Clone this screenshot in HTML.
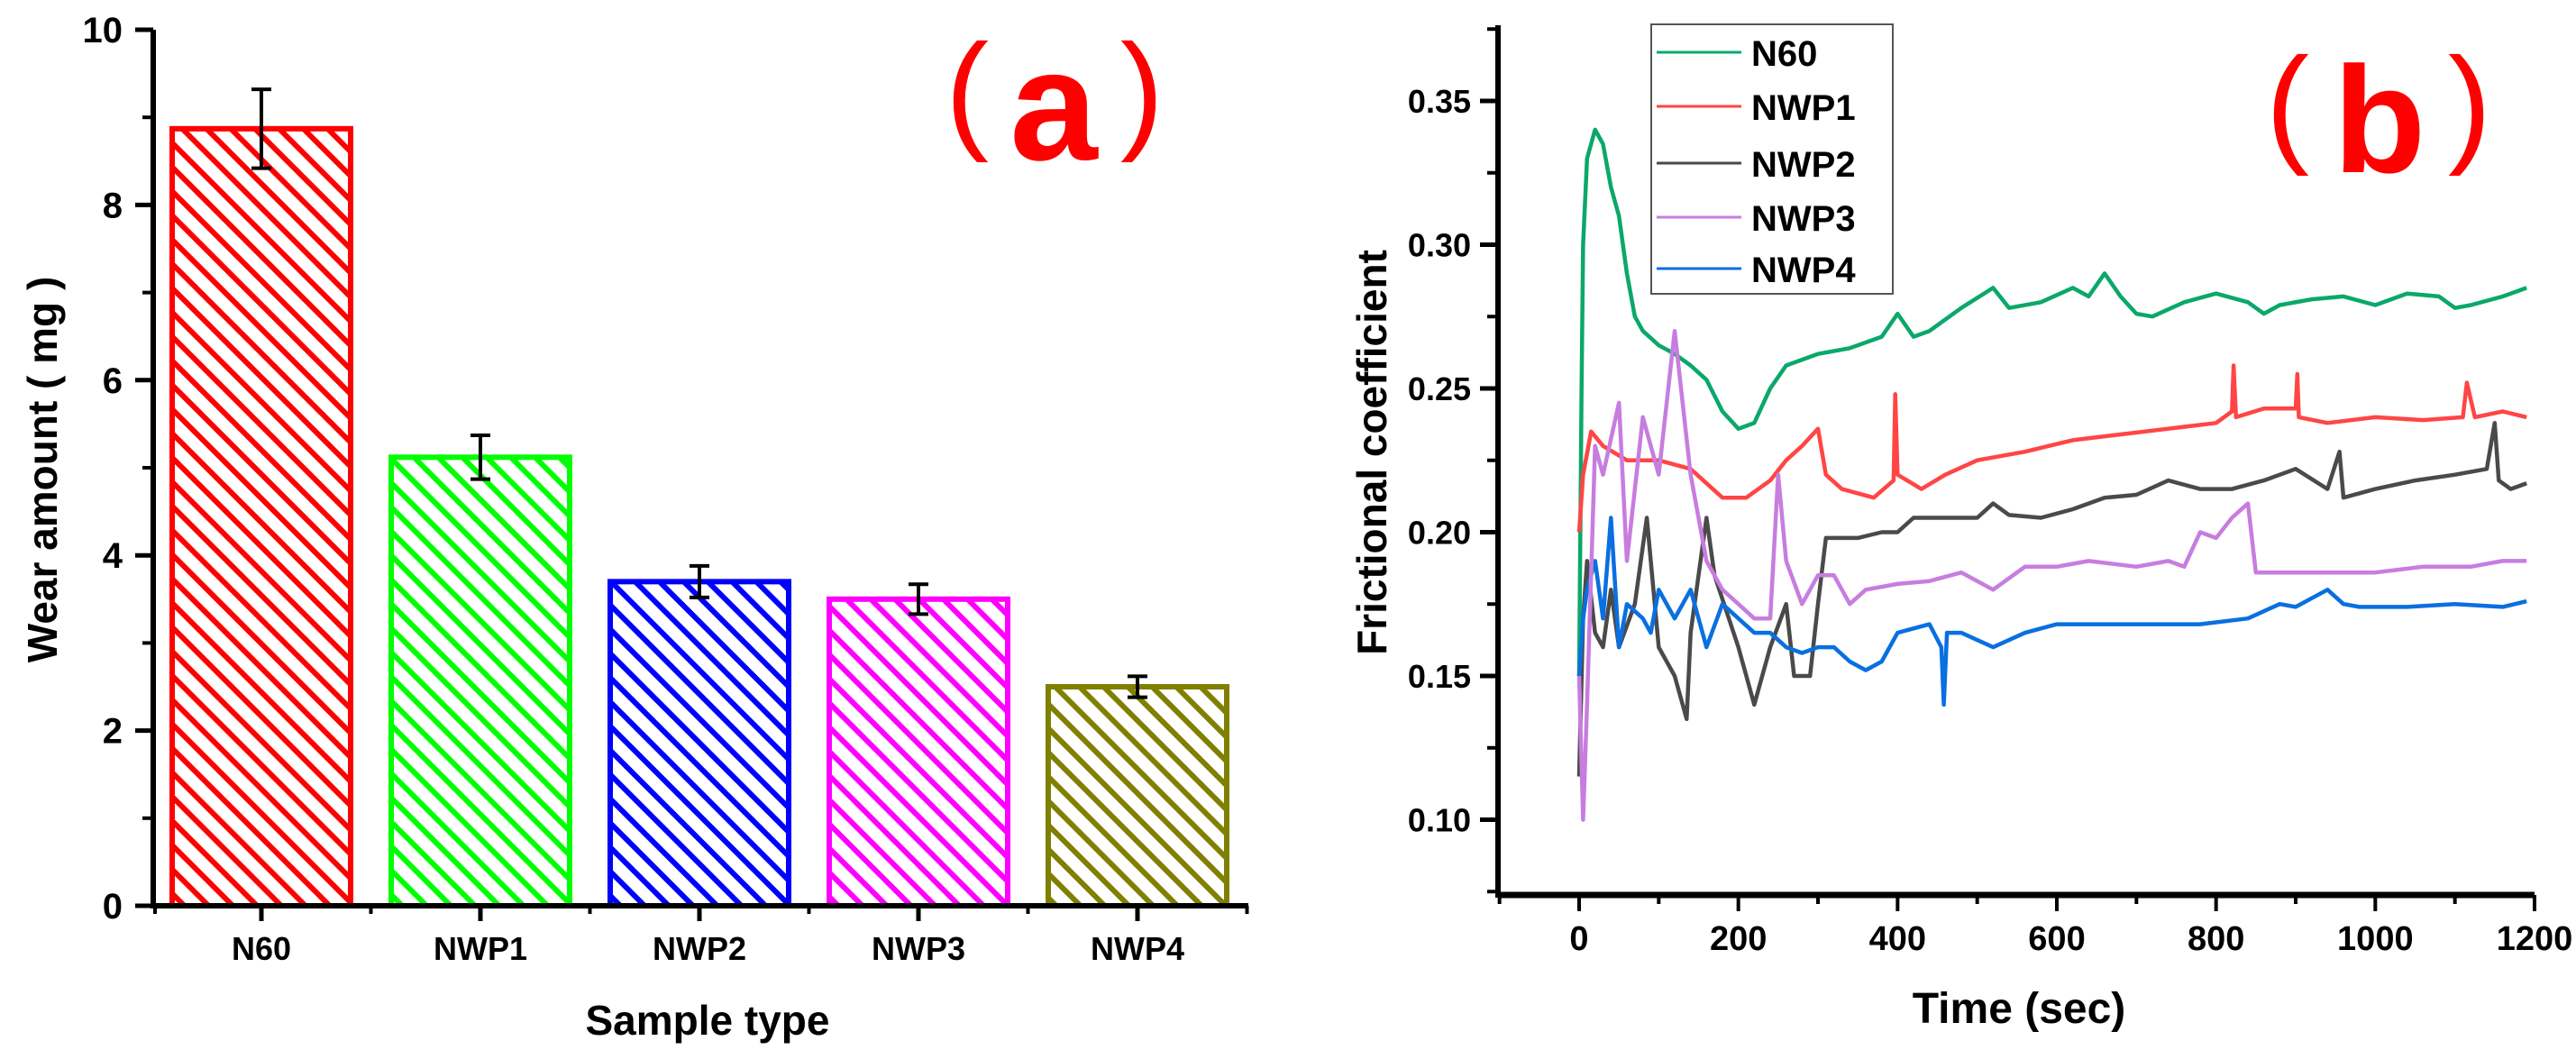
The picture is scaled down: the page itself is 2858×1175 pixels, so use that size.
<!DOCTYPE html>
<html><head><meta charset="utf-8"><style>
html,body{margin:0;padding:0;background:#fff;}
svg{display:block;font-family:"Liberation Sans",Arial,sans-serif;font-weight:bold;}
</style></head><body>
<svg id="fig" width="2858" height="1175" viewBox="0 0 2858 1175" xmlns="http://www.w3.org/2000/svg">
<defs>
<pattern id="hatchRed" patternUnits="userSpaceOnUse" width="19" height="19" patternTransform="rotate(-45)"><line x1="4" y1="-5" x2="4" y2="25" stroke="#ff0000" stroke-width="6"/></pattern>
<pattern id="hatchGreen" patternUnits="userSpaceOnUse" width="19" height="19" patternTransform="rotate(-45)"><line x1="4" y1="-5" x2="4" y2="25" stroke="#00ff00" stroke-width="6"/></pattern>
<pattern id="hatchBlue" patternUnits="userSpaceOnUse" width="19" height="19" patternTransform="rotate(-45)"><line x1="4" y1="-5" x2="4" y2="25" stroke="#0000ff" stroke-width="6"/></pattern>
<pattern id="hatchMag" patternUnits="userSpaceOnUse" width="19" height="19" patternTransform="rotate(-45)"><line x1="4" y1="-5" x2="4" y2="25" stroke="#ff00ff" stroke-width="6"/></pattern>
<pattern id="hatchOlive" patternUnits="userSpaceOnUse" width="19" height="19" patternTransform="rotate(-45)"><line x1="4" y1="-5" x2="4" y2="25" stroke="#808000" stroke-width="6"/></pattern>
</defs>
<g id="chartA"></g>
<g id="chartB"></g>
</svg>
<script>
// ---- Chart (a) data ----
const barCategories = ["N60","NWP1","NWP2","NWP3","NWP4"];
const barValues = [8.87, 5.12, 3.7, 3.5, 2.5];
const barErrors = [0.45, 0.25, 0.18, 0.17, 0.12];
const barYTicks = [0,2,4,6,8,10];
// ---- Chart (b) data ----
const seriesNames = ["N60","NWP1","NWP2","NWP3","NWP4"];
const xTicksB = [0,200,400,600,800,1000,1200];
const yTicksB = [0.10,0.15,0.20,0.25,0.30,0.35];
const tN60 = [0,3,5,10,20,30,40,50,60,70,80,100,120,140,160,180,200,220,240,260,280,300,340,380,400,420,440,480,520,540,580,620,640,660,680,700,720,760,800,840,860,880,920,960,1000,1040,1080,1100,1120,1160,1190];
const vN60 = [0.15,0.25,0.30,0.33,0.34,0.335,0.32,0.31,0.29,0.275,0.27,0.265,0.262,0.258,0.253,0.242,0.236,0.238,0.25,0.258,0.26,0.262,0.264,0.268,0.276,0.268,0.27,0.278,0.285,0.278,0.28,0.285,0.282,0.29,0.282,0.276,0.275,0.28,0.283,0.28,0.276,0.279,0.281,0.282,0.279,0.283,0.282,0.278,0.279,0.282,0.285];
const tNWP1 = [0,5,15,30,60,100,140,180,210,240,260,280,300,310,330,370,395,397,400,430,460,500,560,620,680,740,800,820,822,825,860,900,902,904,940,1000,1060,1110,1115,1125,1160,1190];
const vNWP1 = [0.20,0.22,0.235,0.23,0.225,0.225,0.222,0.212,0.212,0.218,0.225,0.23,0.236,0.22,0.215,0.212,0.218,0.248,0.22,0.215,0.22,0.225,0.228,0.232,0.234,0.236,0.238,0.242,0.258,0.24,0.243,0.243,0.255,0.24,0.238,0.24,0.239,0.24,0.252,0.24,0.242,0.24];
const tNWP2 = [0,5,10,20,30,40,50,70,85,100,120,135,140,160,170,200,220,240,260,270,290,300,310,350,380,400,420,460,500,520,540,580,620,660,700,740,780,820,860,900,940,955,960,1000,1050,1100,1140,1150,1155,1170,1190];
const vNWP2 = [0.115,0.17,0.19,0.165,0.16,0.18,0.16,0.175,0.205,0.16,0.15,0.135,0.165,0.205,0.185,0.16,0.14,0.16,0.175,0.15,0.15,0.175,0.198,0.198,0.20,0.20,0.205,0.205,0.205,0.21,0.206,0.205,0.208,0.212,0.213,0.218,0.215,0.215,0.218,0.222,0.215,0.228,0.212,0.215,0.218,0.22,0.222,0.238,0.218,0.215,0.217];
const tNWP3 = [0,5,10,20,30,50,60,80,100,120,130,140,160,180,200,220,240,250,260,280,300,320,340,360,400,440,480,520,560,600,640,700,740,760,780,800,820,840,850,880,940,1000,1060,1120,1160,1190];
const vNWP3 = [0.15,0.10,0.14,0.23,0.22,0.245,0.19,0.24,0.22,0.27,0.245,0.22,0.19,0.18,0.175,0.17,0.17,0.22,0.19,0.175,0.185,0.185,0.175,0.18,0.182,0.183,0.186,0.18,0.188,0.188,0.19,0.188,0.19,0.188,0.20,0.198,0.205,0.21,0.186,0.186,0.186,0.186,0.188,0.188,0.19,0.19];
const tNWP4 = [0,5,10,20,30,40,50,60,80,90,100,120,140,160,180,200,220,240,260,280,300,320,340,360,380,400,440,455,458,462,480,520,560,600,660,720,780,840,880,900,940,960,980,1040,1100,1160,1190];
const vNWP4 = [0.15,0.17,0.18,0.19,0.17,0.205,0.16,0.175,0.17,0.165,0.18,0.17,0.18,0.16,0.175,0.17,0.165,0.165,0.16,0.158,0.16,0.16,0.155,0.152,0.155,0.165,0.168,0.16,0.14,0.165,0.165,0.16,0.165,0.168,0.168,0.168,0.168,0.17,0.175,0.174,0.18,0.175,0.174,0.174,0.175,0.174,0.176];

const NS="http://www.w3.org/2000/svg";
function mk(tag, attrs, parent){const e=document.createElementNS(NS,tag);for(const k in attrs)e.setAttribute(k,attrs[k]);parent.appendChild(e);return e;}

// ---------- Chart A ----------
(function(){
const g=document.getElementById('chartA');
const X0=170, XEND=1385, Y0=1005, YTOP=33;
const yA=v=>Y0-(v-0)/(10-0)*(Y0-YTOP);
const step=243, first=290, bw=198;
const xA=i=>first+i*step;
const fills=["url(#hatchRed)","url(#hatchGreen)","url(#hatchBlue)","url(#hatchMag)","url(#hatchOlive)"];
const strokes=["#ff0000","#00ff00","#0000ff","#ff00ff","#808000"];
barCategories.forEach((c,i)=>{
  const top=yA(barValues[i]);
  const r=mk('rect',{x:xA(i)-bw/2,y:top,width:bw,height:Y0-top,fill:fills[i],stroke:strokes[i],'stroke-width':6},g);
  
  
  const eg=mk('g',{stroke:'#000','stroke-width':4},g);
  
  
  const ht=yA(barValues[i]+barErrors[i]), hb=yA(barValues[i]-barErrors[i]);
  mk('line',{x1:xA(i),y1:ht,x2:xA(i),y2:hb},eg);
  mk('line',{x1:xA(i)-11,y1:ht,x2:xA(i)+11,y2:ht},eg);
  mk('line',{x1:xA(i)-11,y1:hb,x2:xA(i)+11,y2:hb},eg);
  const tl=mk('text',{x:xA(i),y:1065,'text-anchor':'middle','font-size':36},g);
  tl.textContent=c;
  
  
  mk('line',{x1:xA(i),y1:Y0,x2:xA(i),y2:1022,stroke:'#000','stroke-width':5},g);
  mk('line',{x1:xA(i)+step/2,y1:Y0,x2:xA(i)+step/2,y2:1014,stroke:'#000','stroke-width':4},g);
});
mk('line',{x1:172,y1:Y0,x2:172,y2:1014,stroke:'#000','stroke-width':4},g);
const ax=mk('line',{x1:X0,y1:Y0,x2:XEND,y2:Y0,stroke:'#000','stroke-width':6},g);

const ay=mk('line',{x1:X0,y1:Y0+3,x2:X0,y2:YTOP,stroke:'#000','stroke-width':6},g);

barYTicks.forEach(v=>{
  mk('line',{x1:X0-20,y1:yA(v),x2:X0,y2:yA(v),stroke:'#000','stroke-width':5},g);
  if(v<10) mk('line',{x1:X0-12,y1:yA(v+1),x2:X0,y2:yA(v+1),stroke:'#000','stroke-width':4},g);
  const t=mk('text',{x:136,y:yA(v)+14,'text-anchor':'end','font-size':40},g);
  t.textContent=String(v);
  
  
});
})();

// ---------- Chart B ----------
(function(){
const g=document.getElementById('chartB');
const X0=1662, Y0=993, YTOP=28, XEND=2812;
const xB=t=>1752+(t-0)*(2812-1752)/1200;
const yB=v=>112+(0.35-v)/0.05*159.5;
const cols=["#0aa86a","#ff4545","#4a4a4a","#c77ddf","#0a6fe0"];
const ts=[tN60,tNWP1,tNWP2,tNWP3,tNWP4], vs=[vN60,vNWP1,vNWP2,vNWP3,vNWP4];
const order=[0,1,2,4,3];
order.forEach(k=>{
  const d=ts[k].map((t,j)=>(j?'L':'M')+xB(t).toFixed(1)+' '+yB(vs[k][j]).toFixed(1)).join(' ');
  const p=mk('path',{d:d,fill:'none',stroke:cols[k],'stroke-width':4.5,'stroke-linejoin':'round'},g);
  
  
});
const ay=mk('line',{x1:X0,y1:Y0+3,x2:X0,y2:YTOP,stroke:'#000','stroke-width':6},g);

const ax=mk('line',{x1:X0,y1:Y0,x2:XEND,y2:Y0,stroke:'#000','stroke-width':7},g);

yTicksB.forEach(v=>{
  mk('line',{x1:X0-20,y1:yB(v),x2:X0,y2:yB(v),stroke:'#000','stroke-width':5},g);
  mk('line',{x1:X0-12,y1:yB(v+0.025),x2:X0,y2:yB(v+0.025),stroke:'#000','stroke-width':4},g);
  const t=mk('text',{x:1632,y:yB(v)+13,'text-anchor':'end','font-size':36},g);
  t.textContent=v.toFixed(2);
  
  
});
mk('line',{x1:X0-12,y1:yB(0.075),x2:X0,y2:yB(0.075),stroke:'#000','stroke-width':4},g);
xTicksB.forEach(v=>{
  mk('line',{x1:xB(v),y1:Y0,x2:xB(v),y2:Y0+18,stroke:'#000','stroke-width':4},g);
  mk('line',{x1:xB(v-100),y1:Y0,x2:xB(v-100),y2:Y0+10,stroke:'#000','stroke-width':4},g);
  const t=mk('text',{x:xB(v),y:1054,'text-anchor':'middle','font-size':38},g);
  t.textContent=String(v);
  
  
});
const lg=mk('g',{},g);


mk('rect',{x:1832,y:27,width:268,height:299,fill:'#fff',stroke:'#555','stroke-width':2},lg);
const ly=[58,118,181,241,298];
seriesNames.forEach((n,k)=>{
  const e=mk('g',{},lg);
  
  
  mk('line',{x1:1838,y1:ly[k],x2:1932,y2:ly[k],stroke:cols[k],'stroke-width':3},e);
  const t=mk('text',{x:1943,y:ly[k]+15,'font-size':40},e);
  t.textContent=n;
});
})();
</script>
<script>
const fig=document.getElementById('fig');
function addText(txt,attrs,name){const t=document.createElementNS("http://www.w3.org/2000/svg",'text');for(const k in attrs)t.setAttribute(k,attrs[k]);t.textContent=txt;


fig.appendChild(t);}
addText('Wear amount ( mg )',{x:0,y:0,'text-anchor':'middle','font-size':46,transform:'translate(63,521) rotate(-90)'},'y-axis-title-a');
addText('Sample type',{x:785,y:1148,'text-anchor':'middle','font-size':46},'x-axis-title-a');
addText('Frictional coefficient',{x:0,y:0,'text-anchor':'middle','font-size':46,transform:'translate(1538,502) rotate(-90)'},'y-axis-title-b');
addText('Time (sec)',{x:2240,y:1135,'text-anchor':'middle','font-size':48},'x-axis-title-b');
addText('(',{x:1073,y:150,'text-anchor':'middle','font-size':145,'font-weight':'normal',style:'font-weight:normal',fill:'#ff0000'},'panel-label-a-open');
addText('a',{x:1169,y:177,'text-anchor':'middle','font-size':175,fill:'#ff0000'},'panel-label-a');
addText(')',{x:1267,y:150,'text-anchor':'middle','font-size':145,'font-weight':'normal',style:'font-weight:normal',fill:'#ff0000'},'panel-label-a-close');
addText('(',{x:2538,y:165,'text-anchor':'middle','font-size':145,'font-weight':'normal',style:'font-weight:normal',fill:'#ff0000'},'panel-label-b-open');
addText('b',{x:2640,y:191,'text-anchor':'middle','font-size':168,fill:'#ff0000'},'panel-label-b');
addText(')',{x:2740,y:165,'text-anchor':'middle','font-size':145,'font-weight':'normal',style:'font-weight:normal',fill:'#ff0000'},'panel-label-b-close');
</script>
</body></html>
